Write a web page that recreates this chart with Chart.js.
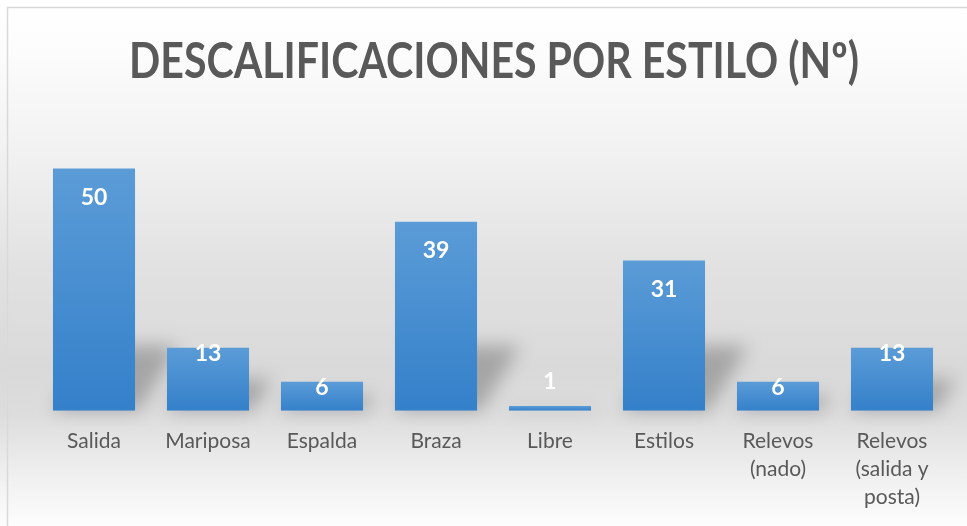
<!DOCTYPE html>
<html>
<head>
<meta charset="utf-8">
<script src="https://cdn.jsdelivr.net/npm/chart.js@4"></script>
<style>
  html, body { margin: 0; padding: 0; background: #fff; }
  #wrap { width: 967px; height: 526px; position: relative; }
</style>
</head>
<body>
<div id="wrap"><canvas id="chart" width="967" height="526"></canvas></div>
<script>
// ---- datos ----
const categorias = ['Salida', 'Mariposa', 'Espalda', 'Braza', 'Libre', 'Estilos', ['Relevos', '(nado)'], ['Relevos', '(salida y', 'posta)']];
const descalificaciones = [50, 13, 6, 39, 1, 31, 6, 13];
const tituloTexto = 'DESCALIFICACIONES POR ESTILO (Nº)';

// fondo degradado + borde del gráfico
const fondoPlugin = {
  id: 'fondo',
  beforeDraw(chart) {
    const { ctx, width, height } = chart;
    const g = ctx.createLinearGradient(0, 0, 0, height);
    g.addColorStop(0, '#ffffff');
    g.addColorStop(0.1, '#fcfcfc');
    g.addColorStop(0.28, '#f2f2f2');
    g.addColorStop(0.5, '#e2e2e2');
    g.addColorStop(0.7, '#d9d9d9');
    g.addColorStop(0.79, '#dddddd');
    g.addColorStop(0.9, '#efefef');
    g.addColorStop(1, '#fdfdfd');
    ctx.save();
    ctx.fillStyle = g;
    ctx.fillRect(0, 0, width, height);
    ctx.strokeStyle = '#d9d9d9';
    ctx.lineWidth = 1.5;
    ctx.strokeRect(7.5, 7.5, width, height);
    ctx.restore();
  }
};

// titulo condensado (estilo Calibri)
const tituloPlugin = {
  id: 'titulo',
  afterDraw(chart) {
    const { ctx } = chart;
    ctx.save();
    ctx.font = 'bold 50px Lato';
    ctx.fillStyle = '#595959';
    ctx.textBaseline = 'middle';
    ctx.textAlign = 'center';
    const w = ctx.measureText(tituloTexto).width;
    const sx = 730 / w;
    ctx.translate(494, 62);
    ctx.scale(sx, 1);
    ctx.fillText(tituloTexto, 0, 0);
    ctx.restore();
  }
};

// sombra difusa detras de cada barra
const sombraPlugin = {
  id: 'sombra',
  beforeDatasetsDraw(chart) {
    const { ctx } = chart;
    const meta = chart.getDatasetMeta(0);
    ctx.save();
    ctx.filter = 'blur(9px)';
    ctx.fillStyle = 'rgba(0,0,0,0.24)';
    meta.data.forEach(bar => {
      const h = bar.base - bar.y;
      const sh = Math.min(65, h * 0.5);
      const dx = sh * 0.6;
      const l = bar.x - bar.width / 2, r = bar.x + bar.width / 2;
      ctx.beginPath();
      ctx.moveTo(l, bar.base);
      ctx.lineTo(r + 4, bar.base);
      ctx.lineTo(r + dx + 4, bar.base - sh);
      ctx.lineTo(l + dx, bar.base - sh);
      ctx.closePath();
      ctx.fill();
    });
    ctx.restore();
  }
};

// etiquetas de valor
const etiquetasPlugin = {
  id: 'etiquetas',
  afterDatasetsDraw(chart) {
    const { ctx } = chart;
    const meta = chart.getDatasetMeta(0);
    ctx.save();
    ctx.font = 'bold 23px Lato';
    ctx.fillStyle = '#ffffff';
    ctx.textAlign = 'center';
    ctx.textBaseline = 'middle';
    meta.data.forEach((bar, i) => {
      const h = bar.base - bar.y;
      let y;
      if (h > 100) y = bar.y + 29;
      else if (h > 20) y = bar.y + 6;
      else y = bar.y - 24;
      ctx.fillText(String(descalificaciones[i]), bar.x, y);
    });
    ctx.restore();
  }
};

const grafico = new Chart(document.getElementById('chart'), {
  type: 'bar',
  data: {
    labels: categorias,
    datasets: [{
      data: descalificaciones,
      backgroundColor: (c) => {
        const chart = c.chart;
        const y = chart.scales && chart.scales.y;
        if (!y || c.parsed === undefined) return '#4a90d2';
        const top = y.getPixelForValue(c.parsed.y);
        const base = y.getPixelForValue(0);
        if (!isFinite(top) || !isFinite(base) || top === base) return '#4a90d2';
        const g = chart.ctx.createLinearGradient(0, top, 0, base);
        g.addColorStop(0, '#5b9cd7');
        g.addColorStop(1, '#3480ca');
        return g;
      },
      borderWidth: 0,
      barPercentage: 0.72,
      categoryPercentage: 1
    }]
  },
  options: {
    responsive: false,
    animation: false,
    layout: { padding: { left: 37, right: 18, top: 120, bottom: 6 } },
    plugins: {
      legend: { display: false },
      tooltip: { enabled: false },
      title: { display: false }
    },
    scales: {
      y: { display: false, min: 0, max: 60 },
      x: {
        grid: { display: false },
        border: { display: false },
        ticks: {
          color: '#595959',
          font: { family: 'Lato', size: 21, lineHeight: 1.32 },
          padding: 9,
          maxRotation: 0,
          autoSkip: false
        }
      }
    }
  },
  plugins: [fondoPlugin, sombraPlugin, etiquetasPlugin, tituloPlugin]
});
</script>
</body>
</html>
